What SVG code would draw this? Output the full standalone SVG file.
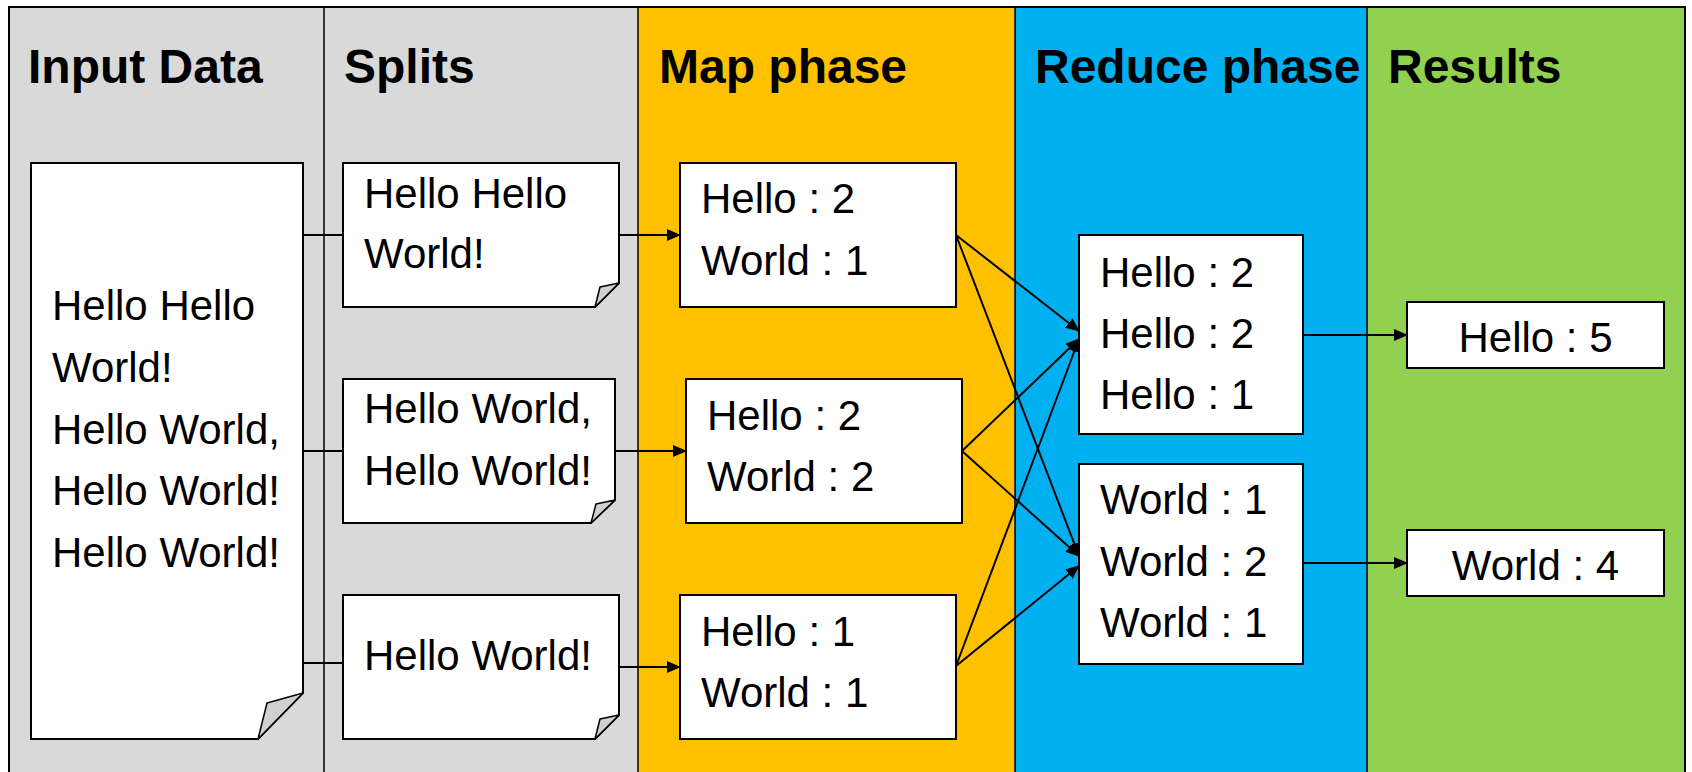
<svg xmlns="http://www.w3.org/2000/svg" width="1692" height="772" viewBox="0 0 1692 772">
<defs>
<style>
.title{font-family:"Liberation Sans",Arial,sans-serif;font-weight:bold;font-size:48px;fill:#000}
.t{font-family:"Liberation Sans",Arial,sans-serif;font-size:42px;fill:#000}
.box{fill:#fff;stroke:#000;stroke-width:2}
.flap{fill:#d0d0d0;stroke:#000;stroke-width:1.5;stroke-linejoin:round}
.div{stroke:#000;stroke-width:1.5;fill:none}
.c{stroke:#000;stroke-width:2;fill:none}
.a{stroke:#000;stroke-width:2;fill:none;marker-end:url(#ah)}
</style>
<marker id="ah" markerUnits="userSpaceOnUse" markerWidth="14" markerHeight="12" refX="13" refY="6" orient="auto">
<path d="M0,0 L14,6 L0,12 Z" fill="#000"/>
</marker>
</defs>
<rect width="1692" height="772" fill="#fff"/>
<g id="lanes">
<rect x="9" y="7" width="315" height="780" fill="#d9d9d9"/>
<rect x="324" y="7" width="314" height="780" fill="#d9d9d9"/>
<rect x="638" y="7" width="377" height="780" fill="#ffc000"/>
<rect x="1015" y="7" width="352" height="780" fill="#00b0f0"/>
<rect x="1367" y="7" width="318" height="780" fill="#92d050"/>
<rect x="9" y="7" width="1676" height="780" fill="none" stroke="#000" stroke-width="2"/>
<line class="div" x1="324" y1="7" x2="324" y2="772"/>
<line class="div" x1="638" y1="7" x2="638" y2="772"/>
<line class="div" x1="1015" y1="7" x2="1015" y2="772"/>
<line class="div" x1="1367" y1="7" x2="1367" y2="772"/>
<text class="title" x="28" y="83">Input Data</text>
<text class="title" x="344" y="83">Splits</text>
<text class="title" x="659" y="83">Map phase</text>
<text class="title" x="1035" y="83">Reduce phase</text>
<text class="title" x="1388" y="83">Results</text>
</g>
<g id="connectors">
<line class="c" x1="303" y1="235" x2="343" y2="235"/>
<line class="c" x1="303" y1="451" x2="343" y2="451"/>
<line class="c" x1="303" y1="663" x2="343" y2="663"/>
<line class="a" x1="619" y1="235" x2="680" y2="235"/>
<line class="a" x1="615" y1="451" x2="686" y2="451"/>
<line class="a" x1="619" y1="667" x2="680" y2="667"/>
<line class="a" x1="956" y1="235" x2="1079" y2="331"/>
<line class="a" x1="956" y1="235" x2="1079" y2="556"/>
<line class="a" x1="962" y1="451" x2="1079" y2="339"/>
<line class="a" x1="962" y1="451" x2="1079" y2="556"/>
<line class="a" x1="956" y1="666" x2="1079" y2="339"/>
<line class="a" x1="956" y1="666" x2="1079" y2="566"/>
<line class="a" x1="1303" y1="335" x2="1407" y2="335"/>
<line class="a" x1="1303" y1="563" x2="1407" y2="563"/>
</g>
<g id="input">
<path class="box" d="M31,163 H303 V693 L258,739 H31 Z"/>
<path class="flap" d="M303,693 L267,703 L258,739 Z"/>
<text class="t" x="52" y="320">Hello Hello</text>
<text class="t" x="52" y="382">World!</text>
<text class="t" x="52" y="444">Hello World,</text>
<text class="t" x="52" y="505">Hello World!</text>
<text class="t" x="52" y="567">Hello World!</text>
</g>
<g id="split1">
<path class="box" d="M343,163 H619 V283 L595,307 H343 Z"/>
<path class="flap" d="M619,283 L600,287 L595,307 Z"/>
<text class="t" x="364" y="208">Hello Hello</text>
<text class="t" x="364" y="268">World!</text>
</g>
<g id="split2">
<path class="box" d="M343,379 H615 V500 L591,523 H343 Z"/>
<path class="flap" d="M615,500 L596,504 L591,523 Z"/>
<text class="t" x="364" y="423">Hello World,</text>
<text class="t" x="364" y="485">Hello World!</text>
</g>
<g id="split3">
<path class="box" d="M343,595 H619 V715 L595,739 H343 Z"/>
<path class="flap" d="M619,715 L600,719 L595,739 Z"/>
<text class="t" x="364" y="670">Hello World!</text>
</g>
<g id="map1">
<rect class="box" x="680" y="163" width="276" height="144"/>
<text class="t" x="701" y="213">Hello : 2</text>
<text class="t" x="701" y="275">World : 1</text>
</g>
<g id="map2">
<rect class="box" x="686" y="379" width="276" height="144"/>
<text class="t" x="707" y="430">Hello : 2</text>
<text class="t" x="707" y="491">World : 2</text>
</g>
<g id="map3">
<rect class="box" x="680" y="595" width="276" height="144"/>
<text class="t" x="701" y="646">Hello : 1</text>
<text class="t" x="701" y="707">World : 1</text>
</g>
<g id="reduce1">
<rect class="box" x="1079" y="235" width="224" height="199"/>
<text class="t" x="1100" y="287">Hello : 2</text>
<text class="t" x="1100" y="348">Hello : 2</text>
<text class="t" x="1100" y="409">Hello : 1</text>
</g>
<g id="reduce2">
<rect class="box" x="1079" y="464" width="224" height="200"/>
<text class="t" x="1100" y="514">World : 1</text>
<text class="t" x="1100" y="576">World : 2</text>
<text class="t" x="1100" y="637">World : 1</text>
</g>
<g id="result1">
<rect class="box" x="1407" y="302" width="257" height="66"/>
<text class="t" x="1535.5" y="352" text-anchor="middle">Hello : 5</text>
</g>
<g id="result2">
<rect class="box" x="1407" y="530" width="257" height="66"/>
<text class="t" x="1535.5" y="580" text-anchor="middle">World : 4</text>
</g>
</svg>
